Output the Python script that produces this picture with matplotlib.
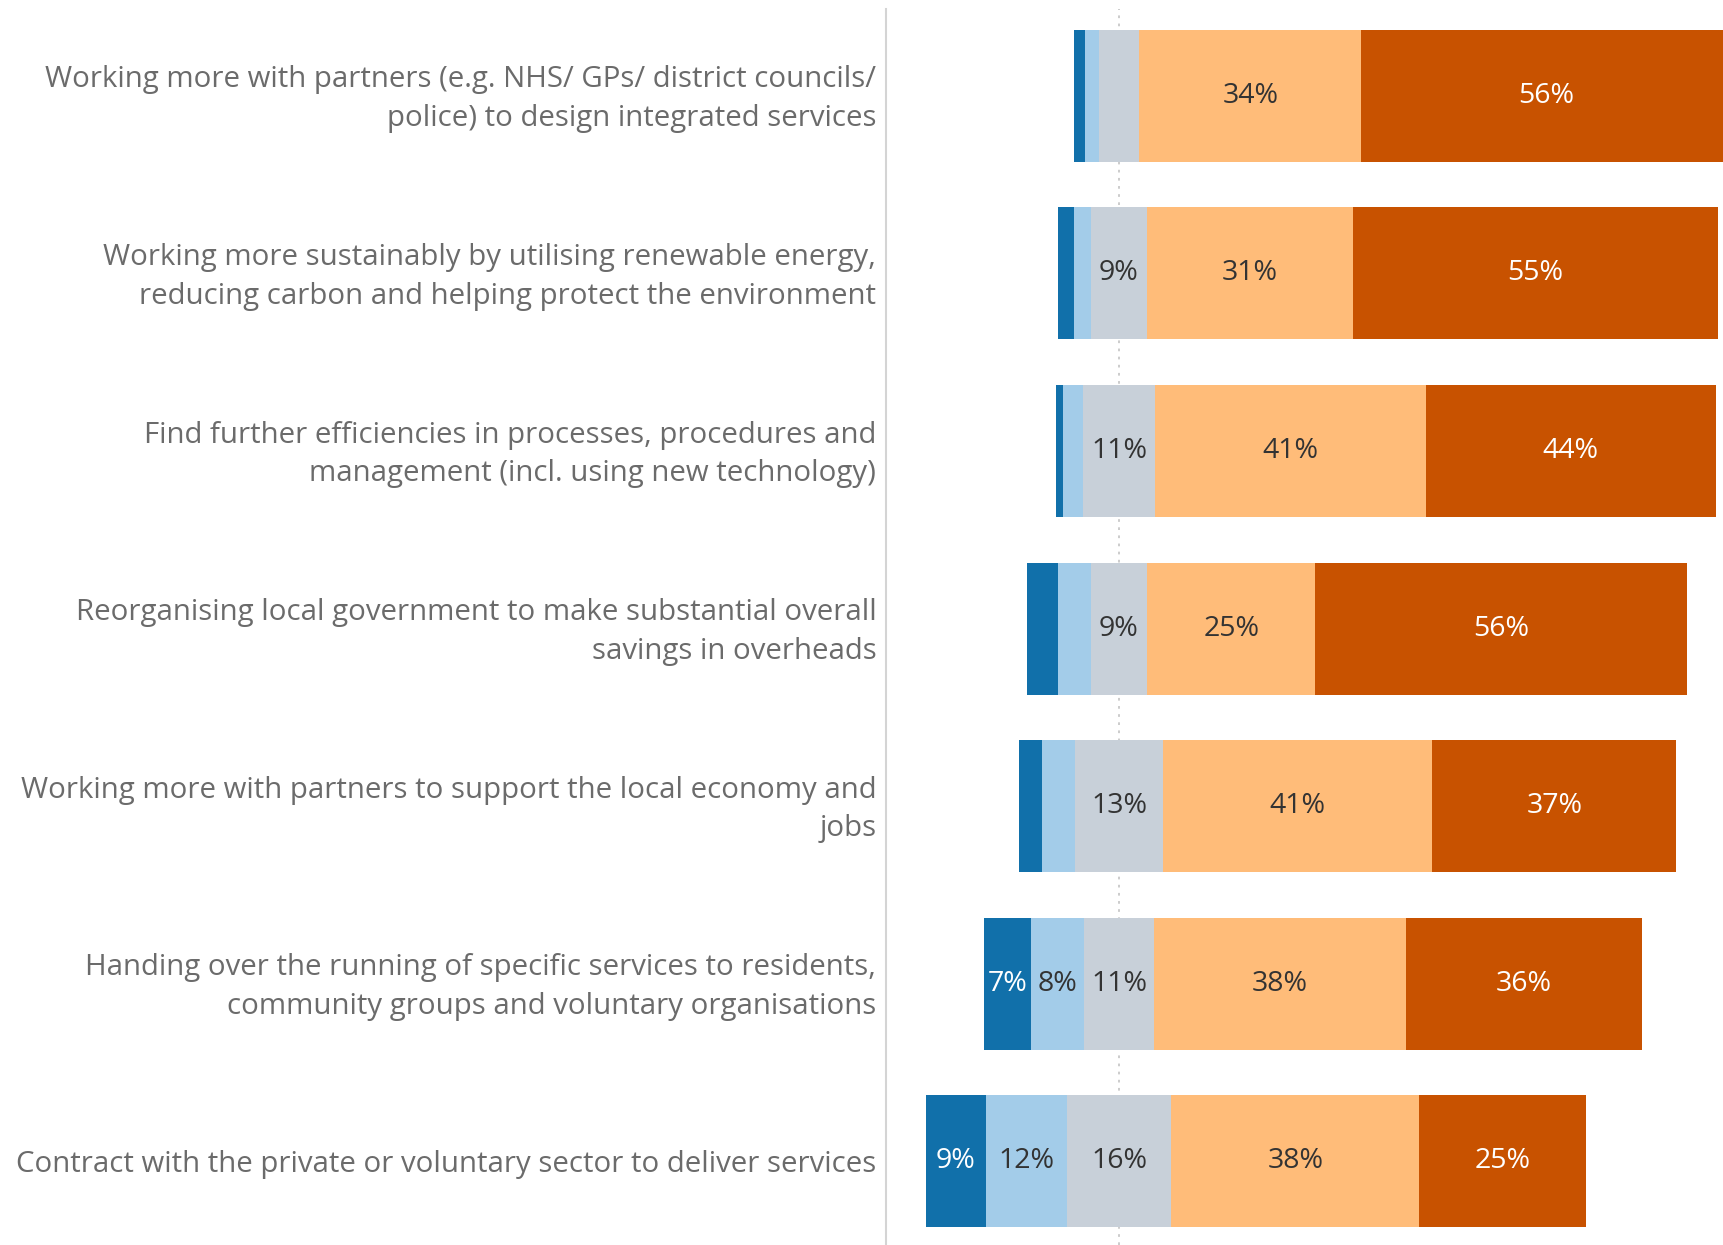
import matplotlib
matplotlib.use("Agg")
import matplotlib.pyplot as plt
import numpy as np

categories = [
    "Working more with partners (e.g. NHS/ GPs/ district councils/\npolice) to design integrated services",
    "Working more sustainably by utilising renewable energy,\nreducing carbon and helping protect the environment",
    "Find further efficiencies in processes, procedures and\nmanagement (incl. using new technology)",
    "Reorganising local government to make substantial overall\nsavings in overheads",
    "Working more with partners to support the local economy and\njobs",
    "Handing over the running of specific services to residents,\ncommunity groups and voluntary organisations",
    "Contract with the private or voluntary sector to deliver services",
]

strongly_oppose = [1.7, 2.5, 1.1, 4.7, 3.6, 7.1, 9.1]
oppose          = [2.0, 2.5, 3.0, 4.9, 4.9, 8.0, 12.3]
neutral         = [6.2, 8.6, 10.9, 8.6, 13.4, 10.6, 15.8]
support         = [33.6, 31.1, 41.0, 25.4, 40.8, 38.2, 37.6]
strongly_support= [56.2, 55.4, 44.0, 56.4, 36.9, 35.7, 25.3]

colors = ["#1170aa", "#a3cce9", "#c8d0d9", "#ffbc79", "#c85200"]
text_colors = ["#ffffff", "#333333", "#333333", "#333333", "#ffffff"]

W, H = 1724, 1245
fig = plt.figure(figsize=(W / 100, H / 100), dpi=100)
font = "Open Sans"
plt.rcParams["font.family"] = [font, "DejaVu Sans"]

ax_left = 886 / W
ax_top = 9
ax = fig.add_axes([ax_left, 0, 1 - ax_left, (H - ax_top) / H])

px_per = 6.6
zero_px = 1119
ax.set_xlim(-(zero_px - 886) / px_per, (W - zero_px) / px_per)
step = 177.6
first_c = 95.7
ax.set_ylim((H - first_c) / step, -(first_c - ax_top) / step)

series = [strongly_oppose, oppose, neutral, support, strongly_support]
n = len(categories)
y = np.arange(n)
so = np.array(strongly_oppose)
op = np.array(oppose)
ne = np.array(neutral)
start = -(so + op + ne / 2)
left = start.copy()
for vals, col, tc in zip(series, colors, text_colors):
    vals = np.array(vals)
    ax.barh(y, vals, left=left, height=132 / step, color=col, zorder=2, linewidth=0)
    for i in range(n):
        if vals[i] >= 6.5:
            ax.text(left[i] + vals[i] / 2, y[i], f"{round(vals[i])}%", ha="center", va="center",
                    color=tc, fontsize=20.5, zorder=3)
    left = left + vals

ax.axvline(0, color="#c8c8c8", linestyle=(0, (1.5, 3)), linewidth=1.3, zorder=1)

for i, c in enumerate(categories):
    ax.annotate(c, xy=(0, y[i]), xycoords=ax.get_yaxis_transform(), xytext=(-7, -2.5),
                textcoords="offset points", ha="right", va="center", multialignment="right",
                fontsize=21.2, color="#6b6b6b", linespacing=1.43)

for s in ["top", "right", "bottom"]:
    ax.spines[s].set_visible(False)
ax.spines["left"].set_color("#d4d4d4")
ax.spines["left"].set_linewidth(1.5)
ax.set_xticks([])
ax.set_yticks([])

fig.savefig("out.png", dpi=100)
